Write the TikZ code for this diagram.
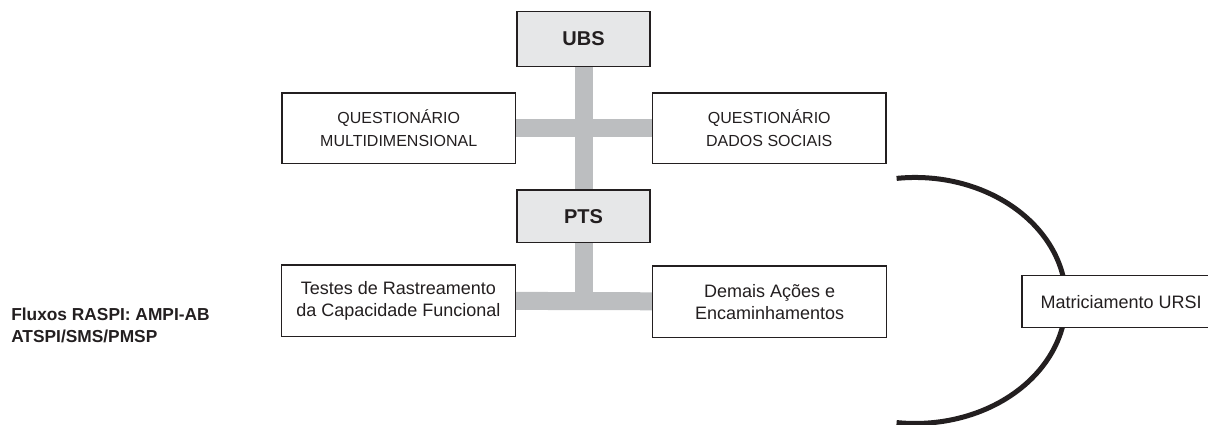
\documentclass[tikz,border=0pt]{standalone}
\usepackage{fontspec}
\setmainfont{Liberation Sans}
\usetikzlibrary{positioning, backgrounds, calc}

\definecolor{ink}{HTML}{231F20}
\definecolor{barcol}{HTML}{BCBEC0}
\definecolor{headfill}{HTML}{E6E7E8}

\tikzset{
  box/.style={draw=ink, line width=1.1pt, fill=white, text=ink, align=center, inner sep=0pt},
  head/.style={box, fill=headfill, minimum width=100pt, font=\fontsize{15}{18}\selectfont\bfseries},
  capsbox/.style={box, minimum width=175pt, minimum height=53pt, font=\fontsize{12}{17}\selectfont},
  textbox/.style={box, minimum width=175.5pt, minimum height=53.5pt, font=\fontsize{13.5}{16.5}\selectfont},
  bar/.style={draw=barcol, line width=13.5pt},
  bracket/.style={draw=ink, line width=3.75pt},
  lbl/.style={align=left, inner sep=0pt, text=ink, font=\fontsize{13}{16.5}\selectfont\bfseries},
}

\begin{document}
\begin{tikzpicture}[x=0.75pt, y=0.75pt]
\useasboundingbox (0,0) rectangle (1208,425);
\clip (0,0) rectangle (1208,425);

\node[head, minimum height=41pt] (ubs) at (583.5,386) {UBS};
\node[head, minimum height=39.5pt] (pts) [below=91.5pt of ubs] {PTS};

\node[capsbox] (qm) [below left=18.75pt and 0pt of ubs] {QUESTIONÁRIO\\MULTIDIMENSIONAL};
\node[capsbox] (qds) [below right=18.75pt and 0.75pt of ubs] {QUESTIONÁRIO\\DADOS SOCIAIS};

\node[textbox] (testes) [below left=15.75pt and 0pt of pts] {Testes de Rastreamento\\da Capacidade Funcional};
\node[textbox] (demais) [below right=16.5pt and 0.75pt of pts] {Demais Ações e\\Encaminhamentos};
%\node[textbox] (ursi) [right=100.5pt of demais] {Matriciamento URSI};
\node[textbox, minimum width=148.5pt, minimum height=38.75pt] (ursi) [right=100.5pt of demais] {Matriciamento URSI};

\node[lbl, anchor=west] (fluxos) at (11,100) {Fluxos RASPI: AMPI-AB\\ATSPI/SMS/PMSP};

\coordinate (arctop) at (896.6,246.6);

\begin{scope}[on background layer]
\draw[bar] (ubs) -- (pts);
\draw[bar] (qm) -- (qds);
\draw[bar] (pts) -- (pts |- testes.east);
\draw[bar] (testes) -- (demais);
\draw[bracket] (arctop) arc[start angle=97, end angle=-97, x radius=113.25pt, y radius=92.25pt];
\end{scope}
\end{tikzpicture}
\end{document}
